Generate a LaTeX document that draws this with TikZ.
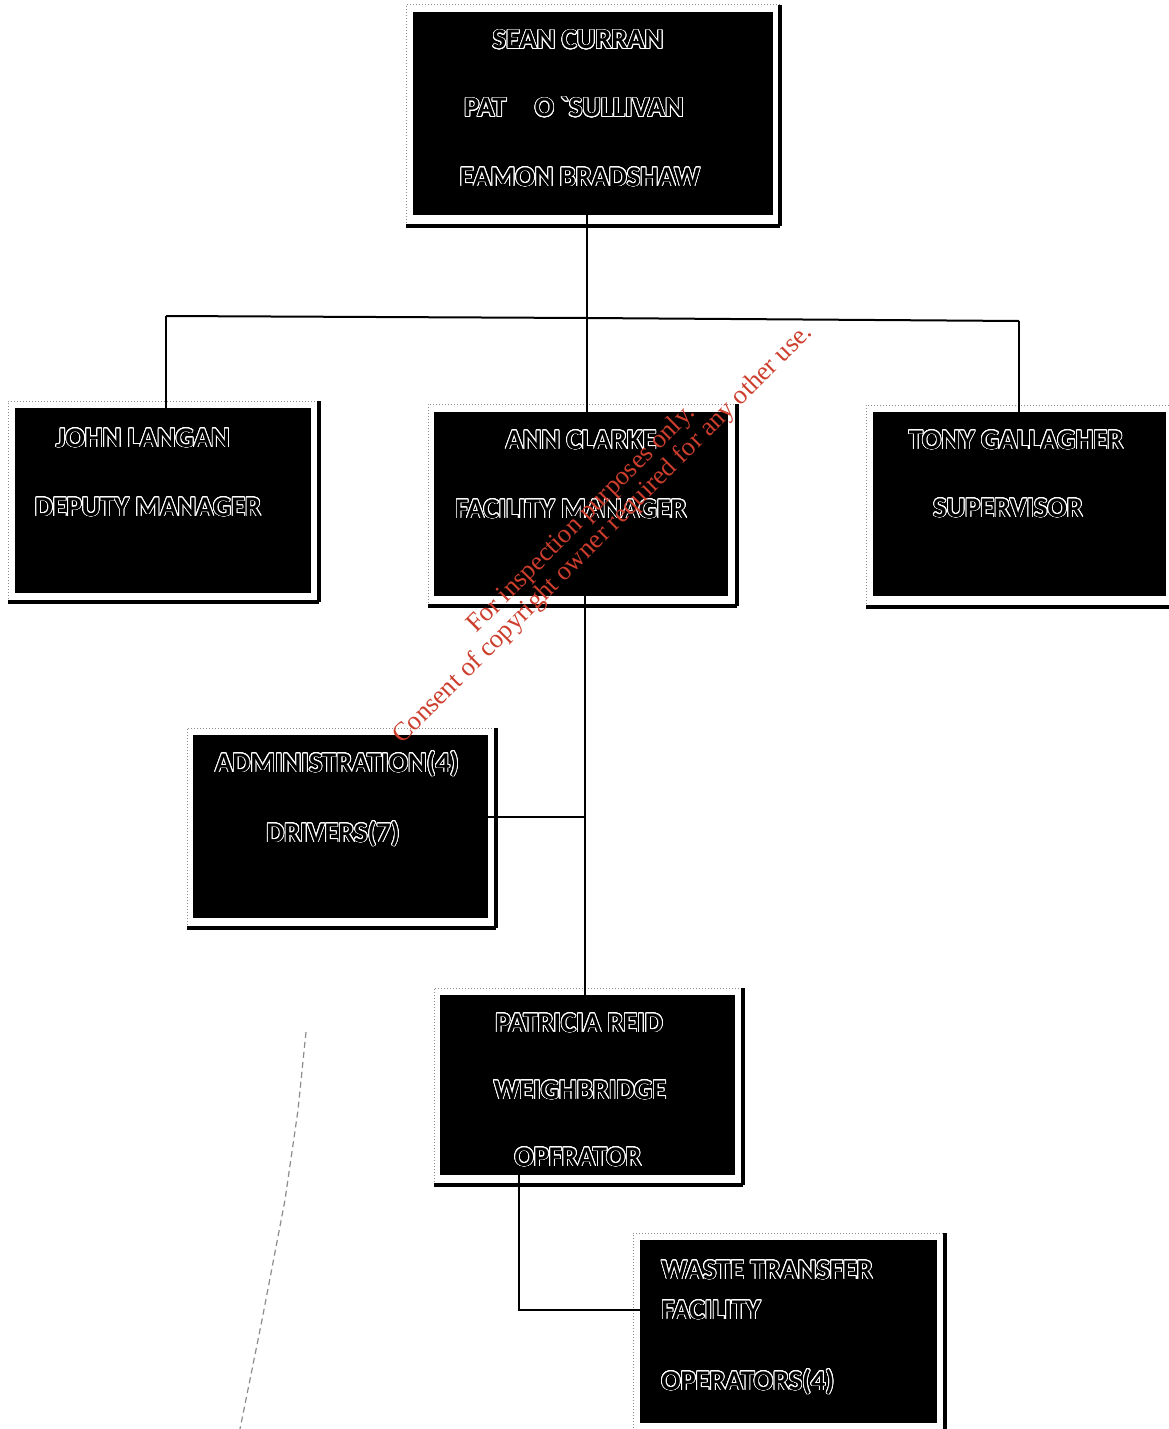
\documentclass[tikz,border=0pt]{standalone}
\usepackage{fontspec}
\setmainfont{Carlito}
\newfontfamily\wmfont{Liberation Serif}
\usepackage{contour}
\contourlength{0.42pt}
\contournumber{24}
\usetikzlibrary{fit,calc}
\definecolor{wmred}{RGB}{205,62,45}
\tikzset{
  blackbox/.style={fill=black, draw=none, inner sep=0pt},
  shadowright/.style={line width=1.6pt},
  shadowbottom/.style={line width=2.3pt},
  frameline/.style={black!45, line width=0.5pt, densely dotted},
  conn/.style={line width=1pt},
  lbl/.style={font=\bfseries\fontsize{14.2}{16}\selectfont, inner sep=0pt, anchor=base, text=black},
  lbll/.style={lbl, anchor=base west},
  wm/.style={font=\wmfont\fontsize{13.2}{15}\selectfont, text=wmred, rotate=45, inner sep=0pt, anchor=base west},
  scratch/.style={black!45, line width=0.6pt, densely dashed},
}
% name, x1,y1,x2,y2 (black area), frame left, top, right, bottom
\newcommand\orgbox[9]{%
  \draw[frameline] (#6,#9) -- (#6,#7) -- (#8,#7);
  \draw[shadowright] (#8,#7) -- (#8,#9);
  \draw[shadowbottom] (#6,#9) -- (#8,#9);
  \node[blackbox, fit={(#2,#3) (#4,#5)}] (#1) {};
}
\newcommand\ol[1]{\contour{white}{#1}}
\begin{document}
\begin{tikzpicture}[x=0.5pt,y=-0.5pt]
\fill[white] (0,0) rectangle (1168,1429);
\useasboundingbox (0,0) rectangle (1168,1429);

% boxes
\orgbox{top}{413}{12}{773}{215}{406}{5}{780}{226}
\orgbox{john}{15}{408}{311}{593}{8}{401}{319}{602}
\orgbox{ann}{434}{412}{728}{596}{428}{404}{737}{606}
\orgbox{tony}{873}{412}{1166}{596}{866}{405}{1172}{607}
\orgbox{admin}{193}{735}{488}{918}{187}{728}{496}{928}
\orgbox{pat}{440}{995}{735}{1175}{434}{988}{743}{1185}
\orgbox{waste}{640}{1240}{937}{1423}{633}{1233}{945}{1434}

% connectors
\coordinate (jt) at (587,318);
\coordinate (jl) at (166,316);
\coordinate (jr) at (1019,321);
\coordinate (ja) at (585,817);
\coordinate (jp) at (519,1310);
\draw[conn] (jt |- top.south) -- (jt);
\draw[conn] (jl) -- (jt) -- (jr);
\draw[conn] (jl) -- (jl |- john.north);
\draw[conn] (jt) -- (jt |- ann.north);
\draw[conn] (jr) -- (jr |- tony.north);
\draw[conn] (ann.south -| ja) -- (ja) -- (ja |- pat.north);
\draw[conn] (ja) -- (ja -| admin.east);
\draw[conn] (pat.south -| jp) -- (jp) -- (jp -| waste.west);

% labels
\node[lbl] (t1) at (578,49) {\ol{SEAN CURRAN}};
\node[lbl] (t2) at (574,117) {\ol{PAT\quad O \textasciigrave SULLIVAN}};
\node[lbl] (t3) at (580,186) {\ol{EAMON BRADSHAW}};
\node[lbl] (j1) at (143,447) {\ol{JOHN LANGAN}};
\node[lbl] (j2) at (148,516) {\ol{DEPUTY MANAGER}};
\node[lbl] (a1) at (581,449) {\ol{ANN CLARKE}};
\node[lbl] (a2) at (571,518) {\ol{FACILITY MANAGER}};
\node[lbl] (g1) at (1016,449) {\ol{TONY GALLAGHER}};
\node[lbl] (g2) at (1008,517) {\ol{SUPERVISOR}};
\node[lbl] (d1) at (337,772) {\ol{ADMINISTRATION(4)}};
\node[lbl] (d2) at (333,842) {\ol{DRIVERS(7)}};
\node[lbl] (p1) at (579,1032) {\ol{PATRICIA REID}};
\node[lbl] (p2) at (580,1099) {\ol{WEIGHBRIDGE}};
\node[lbl] (p3) at (578,1166) {\ol{OPFRATOR}};
\node[lbll] (w1) at (661,1279) {\ol{WASTE TRANSFER}};
\node[lbll] (w2) at (661,1319) {\ol{FACILITY}};
\node[lbll] (w3) at (661,1390) {\ol{OPERATORS(4)}};

% scan scratch
\draw[scratch] (306,1032) -- (298,1110) -- (285,1200) -- (262,1320) -- (240,1429);

% watermark
\node[wm] (wm1) at (476,634) {For inspection purposes only.};
\node[wm] (wm2) at (402,745) {Consent of copyright owner required for any other use.};
\end{tikzpicture}
\end{document}
